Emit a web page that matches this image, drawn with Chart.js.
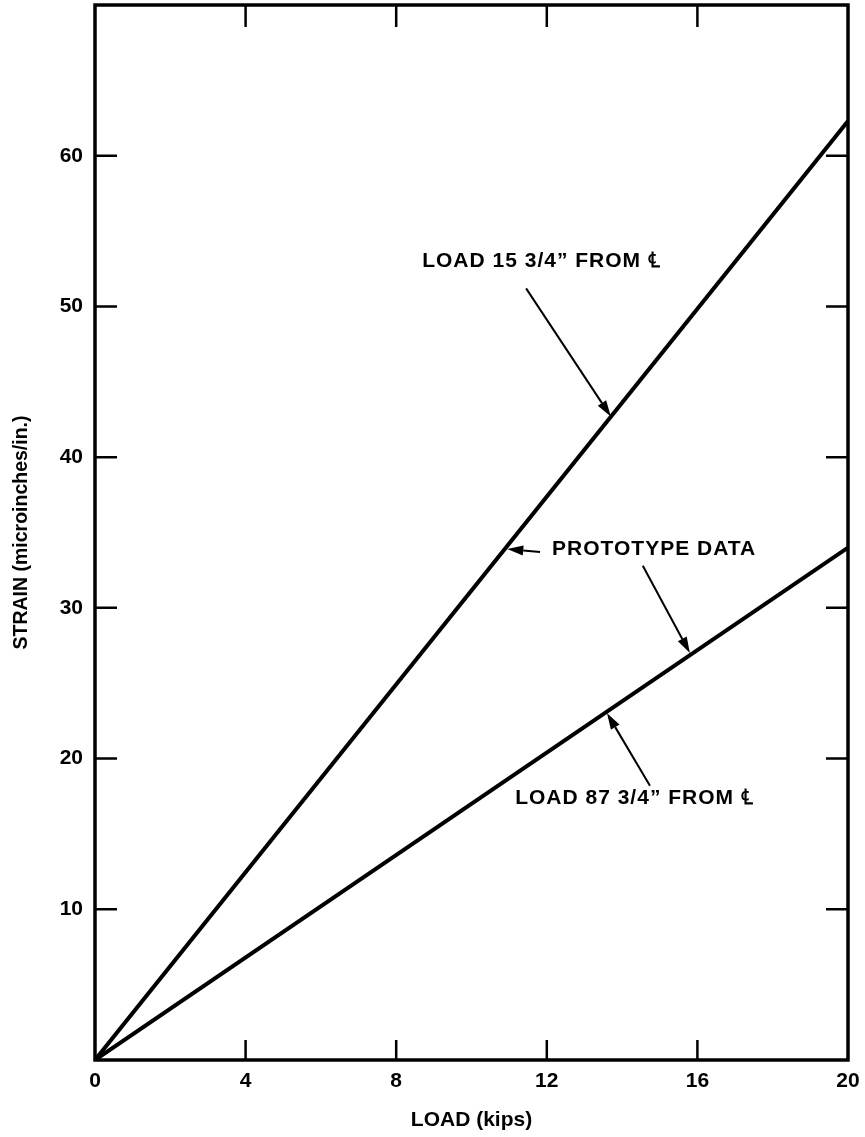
<!DOCTYPE html>
<html><head><meta charset="utf-8">
<script src="https://cdn.jsdelivr.net/npm/chart.js@4/dist/chart.umd.min.js"></script>
<style>html,body{margin:0;padding:0;background:#fff}#wrap{width:865px;height:1137px;position:relative}</style>
</head><body><div id="wrap"><canvas id="c" width="865" height="1137"></canvas></div>
<script>
// ---- data ----
const loadKips = [0, 20];
const strainLoad15 = [0, 62.3];
const strainLoad87 = [0, 34.0];
const xTicks = [0, 4, 8, 12, 16, 20];
const yTicks = [10, 20, 30, 40, 50, 60];
const seriesLabels = ['LOAD 15 3/4\u201D FROM \u2104', 'LOAD 87 3/4\u201D FROM \u2104'];
const noteText = 'PROTOTYPE DATA';

const FONT = '"Liberation Sans", Arial, Helvetica, sans-serif';

// annotation placements in data units (kips, strain)
const notes = [
  {text: seriesLabels[0], x: 8.69, y: 53.0, arrows: [[11.45, 51.2, 13.7, 42.7]]},
  {text: noteText, x: 12.14, y: 33.9, arrows: [[11.82, 33.7, 10.95, 33.9], [14.55, 32.8, 15.8, 27.0]]},
  {text: seriesLabels[1], x: 11.16, y: 17.4, arrows: [[14.74, 18.2, 13.6, 23.0]]}
];

function arrow(ctx, x1, y1, x2, y2) {
  const ang = Math.atan2(y2 - y1, x2 - x1);
  const L = 16, W = 5;
  const bx = x2 - L * Math.cos(ang), by = y2 - L * Math.sin(ang);
  ctx.beginPath();
  ctx.moveTo(x1, y1); ctx.lineTo(bx, by);
  ctx.lineWidth = 2; ctx.strokeStyle = '#000'; ctx.stroke();
  ctx.beginPath();
  ctx.moveTo(x2, y2);
  ctx.lineTo(bx + W * Math.sin(ang), by - W * Math.cos(ang));
  ctx.lineTo(bx - W * Math.sin(ang), by + W * Math.cos(ang));
  ctx.closePath(); ctx.fillStyle = '#000'; ctx.fill();
}

const framePlugin = {
  id: 'frame',
  afterDraw(chart) {
    const {ctx, chartArea: a, scales: {x, y}} = chart;
    ctx.save();
    ctx.strokeStyle = '#000';
    ctx.lineWidth = 3.5;
    ctx.strokeRect(a.left, a.top, a.right - a.left, a.bottom - a.top);
    ctx.lineWidth = 2.5;
    ctx.beginPath();
    xTicks.forEach(v => {
      if (v === xTicks[0] || v === xTicks[xTicks.length - 1]) return;
      const px = x.getPixelForValue(v);
      ctx.moveTo(px, a.bottom); ctx.lineTo(px, a.bottom - 20);
      ctx.moveTo(px, a.top); ctx.lineTo(px, a.top + 22);
    });
    yTicks.forEach(v => {
      const py = y.getPixelForValue(v);
      ctx.moveTo(a.left, py); ctx.lineTo(a.left + 22, py);
      ctx.moveTo(a.right, py); ctx.lineTo(a.right - 22, py);
    });
    ctx.stroke();
    // annotations
    ctx.font = 'bold 21px ' + FONT;
    ctx.letterSpacing = '1px';
    ctx.fillStyle = '#000';
    ctx.textBaseline = 'middle';
    ctx.textAlign = 'left';
    notes.forEach(n => {
      ctx.fillText(n.text, x.getPixelForValue(n.x), y.getPixelForValue(n.y));
      n.arrows.forEach(ar => arrow(ctx,
        x.getPixelForValue(ar[0]), y.getPixelForValue(ar[1]),
        x.getPixelForValue(ar[2]), y.getPixelForValue(ar[3])));
    });
    ctx.restore();
  }
};

const toPts = (xs, ys) => xs.map((v, i) => ({x: v, y: ys[i]}));

new Chart(document.getElementById('c'), {
  type: 'scatter',
  data: {
    datasets: [
      {label: seriesLabels[0], data: toPts(loadKips, strainLoad15), showLine: true,
       borderColor: '#000', borderWidth: 4, pointRadius: 0, fill: false},
      {label: seriesLabels[1], data: toPts(loadKips, strainLoad87), showLine: true,
       borderColor: '#000', borderWidth: 4, pointRadius: 0, fill: false}
    ]
  },
  options: {
    responsive: false, animation: false, devicePixelRatio: 1,
    layout: {padding: {left: 0, right: 17, top: 5, bottom: 0}},
    plugins: {legend: {display: false}, tooltip: {enabled: false}},
    scales: {
      x: {
        type: 'linear', min: 0, max: 20,
        afterBuildTicks: s => { s.ticks = xTicks.map(v => ({value: v})); },
        afterFit: s => { s.height = 77; s.paddingLeft = 0; s.paddingRight = 0; },
        ticks: {color: '#000', font: {family: FONT, size: 21, weight: 'bold'}, padding: 9, maxRotation: 0},
        grid: {display: false, drawTicks: false},
        border: {display: false},
        title: {display: true, text: 'LOAD (kips)', color: '#000',
                font: {family: FONT, size: 21, weight: 'bold'}, padding: {top: 0, bottom: 4}}
      },
      y: {
        type: 'linear', min: 0, max: 70,
        afterBuildTicks: s => { s.ticks = yTicks.map(v => ({value: v})); },
        afterFit: s => { s.width = 95; s.paddingTop = 0; s.paddingBottom = 0; },
        ticks: {color: '#000', font: {family: FONT, size: 21, weight: 'bold'}, padding: 12},
        grid: {display: false, drawTicks: false},
        border: {display: false},
        title: {display: true, text: 'STRAIN (microinches/in.)', color: '#000',
                font: {family: FONT, size: 19.5, weight: 'bold'}, padding: {top: 10, bottom: 0}}
      }
    }
  },
  plugins: [framePlugin]
});
</script></body></html>
